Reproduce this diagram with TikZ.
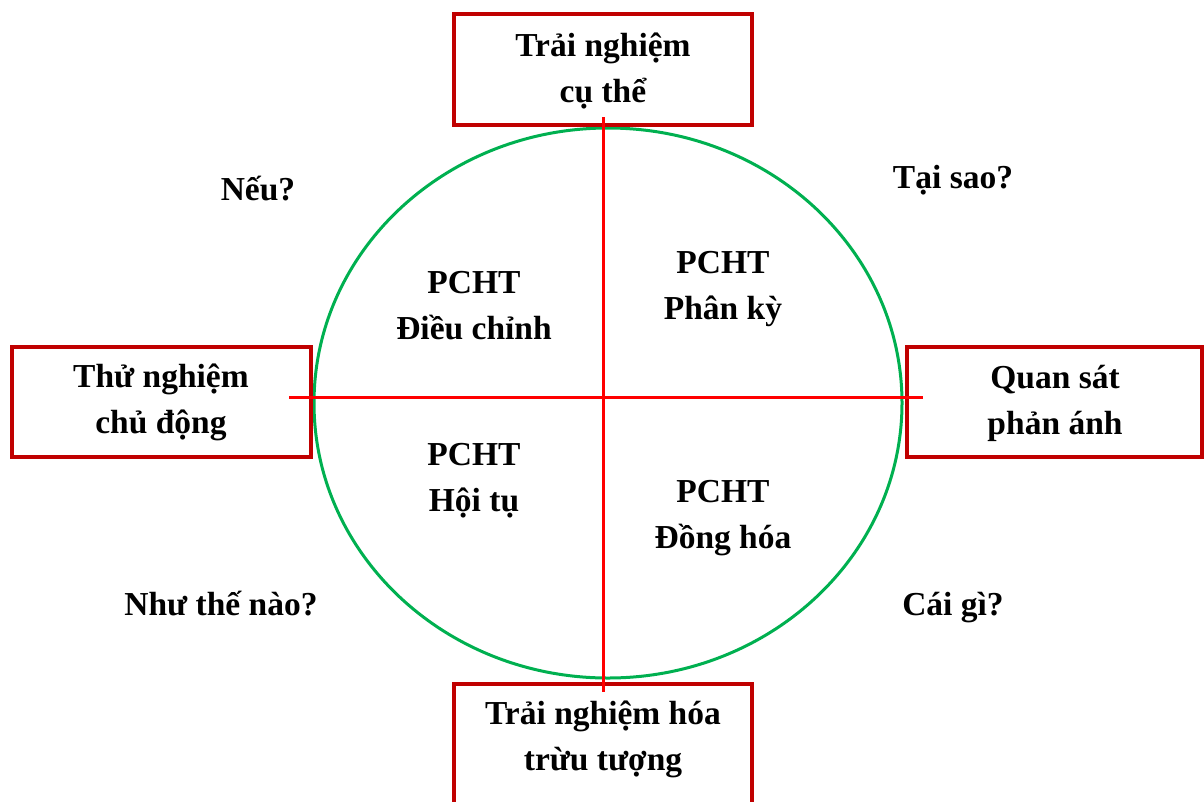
\documentclass[tikz,border=0pt]{standalone}
\usepackage{fontspec}
\setmainfont{Liberation Serif}
\usetikzlibrary{shapes.geometric}
\definecolor{boxred}{HTML}{C00000}
\definecolor{axisred}{HTML}{FF0000}
\definecolor{ringgreen}{HTML}{00B050}
\begin{document}
\begin{tikzpicture}[x=1pt,y=-1pt,
  txt/.style={font=\fontsize{33.5}{45.5}\selectfont\bfseries, align=center, inner sep=0pt, anchor=base},
  box/.style={draw=boxred, line width=3.5pt, inner sep=0pt, rectangle},
  axis/.style={draw=axisred, line width=3pt},
  ring/.style={draw=ringgreen, line width=3pt}
]
\useasboundingbox (0,0) rectangle (1204,801);
\clip (0,0) rectangle (1204,801);

% ring
\node[ring, ellipse, minimum width=588pt, minimum height=550pt, inner sep=0pt] (ring) at (608,403) {};

% boxes
\node[box, minimum width=298pt, minimum height=111pt] (top) at (603,69.5) {};
\node[box, minimum width=298pt, minimum height=140pt] (bottom) at (603,754) {};
\node[box, minimum width=299pt, minimum height=110pt] (left) at (161.5,402) {};
\node[box, minimum width=295pt, minimum height=110pt] (right) at (1054.5,402) {};

% box texts (anchor = baseline of last line)
\node[txt] (toptext) at (603,102) {Trải nghiệm\\cụ thể};
\node[txt] (bottomtext) at (603,770) {Trải nghiệm hóa\\trừu tượng};
\node[txt] (lefttext) at (161,433) {Thử nghiệm\\chủ động};
\node[txt] (righttext) at (1055,434) {Quan sát\\phản ánh};

% questions
\node[txt] (q1) at (258,200) {Nếu?};
\node[txt] (q2) at (953,188) {Tại sao?};
\node[txt] (q3) at (221,615) {Như thế nào?};
\node[txt] (q4) at (953,615) {Cái gì?};

% quadrant styles
\node[txt] (s1) at (474,339) {PCHT\\Điều chỉnh};
\node[txt] (s2) at (723,319) {PCHT\\Phân kỳ};
\node[txt] (s3) at (474,511) {PCHT\\Hội tụ};
\node[txt] (s4) at (723,548) {PCHT\\Đồng hóa};

% axes
\coordinate (vtop) at (603,117);
\coordinate (vbot) at (603,692);
\coordinate (hleft) at (289,397);
\coordinate (hright) at (923,397);
\draw[axis] (vtop) -- (vbot);
\draw[axis] (hleft) -- (hright);
\end{tikzpicture}
\end{document}
